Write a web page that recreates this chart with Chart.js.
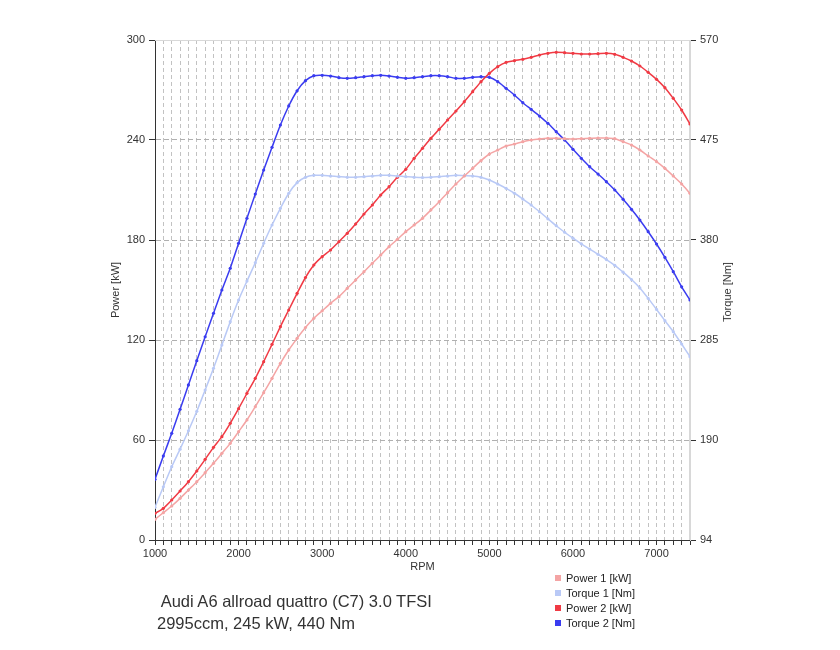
<!DOCTYPE html>
<html>
<head>
<meta charset="utf-8">
<script src="https://cdn.jsdelivr.net/npm/chart.js@4"></script>
<style>
html,body{margin:0;padding:0;background:#fff;}
#wrap{position:relative;width:840px;height:650px;font-family:"Liberation Sans",Arial,sans-serif;overflow:hidden;}
#c{position:absolute;left:0;top:0;}
#cap{position:absolute;left:157px;top:590px;font-size:16.5px;line-height:22px;color:#333;white-space:pre;}
#legend{position:absolute;left:555px;top:571px;font-size:11px;color:#222;}
#legend .row{height:15px;line-height:15px;white-space:nowrap;}
#legend .sw{display:inline-block;width:6px;height:6px;margin-right:5px;vertical-align:1px;}
#y2title{position:absolute;left:727px;top:292px;font-size:11px;color:#333;white-space:nowrap;transform:translate(-50%,-50%) rotate(-90deg);}
</style>
</head>
<body>
<div id="wrap">
<canvas id="c" width="840" height="650"></canvas>
<div id="y2title">Torque [Nm]</div>
<div id="cap"> Audi A6 allroad quattro (C7) 3.0 TFSI
2995ccm, 245 kW, 440 Nm</div>
<div id="legend"></div>
</div>
<script>
const rpm = [1000,1100,1200,1300,1400,1500,1600,1700,1800,1900,
             2000,2100,2200,2300,2400,2500,2600,2700,2800,2900,
             3000,3100,3200,3300,3400,3500,3600,3700,3800,3900,
             4000,4100,4200,4300,4400,4500,4600,4700,4800,4900,
             5000,5100,5200,5300,5400,5500,5600,5700,5800,5900,
             6000,6100,6200,6300,6400,6500,6600,6700,6800,6900,
             7000,7100,7200,7300,7400];

const power1 = [12.4,16.4,20.4,25,30,35,40.4,46,52,58,
                65,72,80,88.4,97,106,114,121,127.5,133,
                137.5,142,146,151,156,161,166,171,176,180.4,
                185,189,193,198,203,208.4,213.6,218.4,223,227.6,
                231.6,234,236.4,237.6,239,240,240.6,241,241,240.8,
                240.6,240.8,241,241.2,241.2,240.8,239,237,234,230.4,
                227,223,218.4,213.6,208];

const torque1 = [125.1,144.7,163.8,180.5,198,216.5,236.8,257.5,279.6,301.8,
                 322.5,340.5,358,376.5,393.9,409.8,424.1,434.2,439.3,441.2,
                 441.2,440.5,439.9,439.3,439.3,439.9,440.5,441.2,441.2,440.5,
                 439.9,439.3,439,439.3,439.9,440.5,441.2,440.8,440.5,439.3,
                 436.7,432.9,428.8,424.1,418.6,412.9,406.5,399.8,393.2,387,
                 381.3,376,371,366,361,355.5,349,342,334,324,
                 313.5,302.8,292.3,280.6,268.5];

const power2 = [16,19,24,29.4,35,41.4,48.4,55.6,62,70,
                78.8,88,97,107,117.4,128,138,148,157.5,165,
                170,174,179,184,189.6,195.6,201,207,212,217.6,
                222.4,229,235,241,246.4,252,257.4,263,269,275,
                280,284,286.6,287.6,288.4,289.6,291,292,292.6,292.4,
                292,291.6,291.6,291.8,292,291.4,289.6,287.4,284.4,280.6,
                276.4,271.4,265,258,249.6];

const torque2 = [151.8,174,195.6,218.4,241.6,264.7,287.5,309.8,332,352.7,
                 376.5,400.3,423.4,446.2,467.9,489.1,507.2,521.7,531.3,536,
                 536.4,535.7,534.1,533.5,534.1,535.1,536,536.4,535.7,534.5,
                 533.5,534.1,535.1,536,536,535.1,533.5,533.5,534.5,535.1,
                 534.5,530.3,524,517.6,510.3,504,497.6,490.7,482.7,474.8,
                 465.9,457.4,449.4,442.4,435.1,427.2,418.3,408.8,398.6,387.5,
                 375.8,363,349.4,335,322.5];

const powerTicks = [0,60,120,180,240,300];
const torqueTickValues = [94,189.2,284.4,379.6,474.8,570];
const torqueTickLabels = ['94','190','285','380','475','570'];
const xLabelTicks = [1000,2000,3000,4000,5000,6000,7000];

const seriesNames = ['Power 1 [kW]','Torque 1 [Nm]','Power 2 [kW]','Torque 2 [Nm]'];
const seriesColors = ['#f4a4a4','#b9c9f6','#f03a44','#3a3cf0'];

function pts(vals){ return rpm.map((r,i)=>({x:r,y:vals[i]})); }

function ds(i, vals, axis){
  return {
    label: seriesNames[i],
    data: pts(vals),
    yAxisID: axis,
    borderColor: seriesColors[i],
    backgroundColor: seriesColors[i],
    pointBackgroundColor: seriesColors[i],
    pointBorderWidth: 0,
    pointRadius: 1.6,
    borderWidth: 1.5,
    tension: 0.25,
    fill: false
  };
}

const frame = {
  id:'frame',
  beforeDatasetsDraw(chart){
    const {ctx, chartArea:a} = chart;
    ctx.save();
    ctx.strokeStyle = '#d8d8d8';
    ctx.lineWidth = 1;
    ctx.setLineDash([]);
    ctx.beginPath();
    ctx.moveTo(a.left, a.top+0.5); ctx.lineTo(a.right, a.top+0.5);
    ctx.moveTo(a.right-0.5, a.top); ctx.lineTo(a.right-0.5, a.bottom);
    ctx.stroke();
    ctx.restore();
  }
};

const tickFont = {family:'"Liberation Sans", Arial, sans-serif', size:11};

new Chart(document.getElementById('c'), {
  type:'line',
  data:{ datasets:[ ds(0,power1,'y'), ds(1,torque1,'y2'), ds(2,power2,'y'), ds(3,torque2,'y2') ] },
  plugins:[frame],
  options:{
    responsive:false,
    devicePixelRatio:1,
    animation:false,
    layout:{padding:{left:105,right:110,top:40,bottom:72}},
    plugins:{legend:{display:false}, tooltip:{enabled:false}},
    scales:{
      x:{
        type:'linear', min:1000, max:7400,
        afterBuildTicks(s){ s.ticks = rpm.map(v=>({value:v})); },
        afterFit(s){ s.height = 38; },
        ticks:{autoSkip:false, maxRotation:0, padding:2, color:'#333', font:tickFont,
               callback:(v)=> xLabelTicks.includes(v) ? String(v) : ''},
        grid:{color:'#c2c2c2', tickColor:'#333', tickLength:5, lineWidth:1},
        border:{color:'#333', dash:[4,3]},
        title:{display:true, text:'RPM', color:'#333', font:tickFont}
      },
      y:{
        position:'left', min:0, max:300,
        afterBuildTicks(s){ s.ticks = powerTicks.map(v=>({value:v})); },
        afterFit(s){ s.width = 50; },
        ticks:{padding:4, color:'#333', font:tickFont},
        grid:{color:'#b0b0b0', tickColor:'#333', tickLength:6},
        border:{color:'#333', dash:[5,3]},
        title:{display:true, text:'Power [kW]', color:'#333', font:tickFont}
      },
      y2:{
        position:'right', min:94, max:570,
        afterBuildTicks(s){ s.ticks = torqueTickValues.map(v=>({value:v})); },
        afterFit(s){ s.width = 40; },
        ticks:{padding:4, color:'#333', font:tickFont,
               callback:(v,i)=> torqueTickLabels[i]},
        grid:{drawOnChartArea:false, tickColor:'#333', tickLength:6},
        border:{color:'#d8d8d8'}
      }
    }
  }
});

const lg = document.getElementById('legend');
seriesNames.forEach((n,i)=>{
  const row = document.createElement('div');
  row.className='row';
  const sw = document.createElement('span');
  sw.className='sw'; sw.style.background = seriesColors[i];
  row.appendChild(sw);
  row.appendChild(document.createTextNode(n));
  lg.appendChild(row);
});
</script>
</body>
</html>
